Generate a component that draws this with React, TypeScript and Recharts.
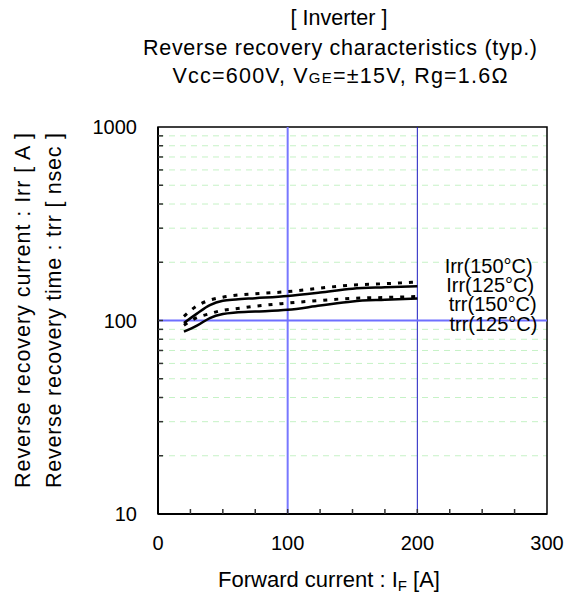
import React from 'react';
import {
  LineChart,
  Line,
  XAxis,
  YAxis,
  CartesianGrid,
  ReferenceLine,
  ReferenceArea,
  ReferenceDot,
} from 'recharts';

// ---- data ----
const forwardCurrent = [20, 30, 40, 50, 60, 75, 100, 125, 150, 175, 200];
const irr150 = [105, 119, 127.5, 132, 135, 137.5, 141, 147, 152.5, 155, 158];
const irr125 = [97, 108.5, 120, 126.5, 128.5, 130.5, 134, 139.5, 146, 148.5, 150.5];
const trr150 = [94.5, 103.5, 108.5, 113, 115, 118.5, 123, 127, 130.2, 131.5, 133];
const trr125 = [87.5, 94, 103, 108, 110, 111.2, 113.5, 119.5, 125.5, 128, 130];

const xTicks = [0, 25, 50, 75, 100, 125, 150, 175, 200, 225, 250, 275, 300];
const xLabelTicks = [0, 100, 200, 300];
const yTicks = [10, 20, 30, 40, 50, 60, 70, 80, 90, 100, 200, 300, 400, 500, 600, 700, 800, 900, 1000];
const yLabelTicks = [10, 100, 1000];
const gridY = [20, 30, 40, 50, 60, 70, 80, 90, 200, 300, 400, 500, 600, 700, 800, 900];

const curveLabels = [
  { text: 'Irr(150°C)', x: 255, y: 191 },
  { text: 'Irr(125°C)', x: 256.2, y: 152.6 },
  { text: 'trr(150°C)', x: 258.1, y: 121.7 },
  { text: 'trr(125°C)', x: 258.7, y: 95.9 },
];

const titleLines = ['[ Inverter ]', 'Reverse recovery characteristics  (typ.)'];
const yLabelLines = ['Reverse recovery current  :  Irr  [ A ]', 'Reverse recovery time  :  trr  [ nsec ]'];

const data = forwardCurrent.map((f, i) => ({
  if: f,
  irr150: irr150[i],
  irr125: irr125[i],
  trr150: trr150[i],
  trr125: trr125[i],
}));

const FONT = '"Liberation Sans", Arial, Helvetica, sans-serif';

const XTick = (props: any) => {
  const { x, y, payload } = props;
  const v = payload.value;
  return (
    <g>
      {v > 0 && v < 300 && <line x1={x} x2={x} y1={y} y2={y - 5} stroke="#333" strokeWidth={1.5} />}
      {xLabelTicks.includes(v) && (
        <text x={x} y={y + 36} textAnchor="middle" fontSize={20} fontFamily={FONT} fill="#000">
          {v}
        </text>
      )}
    </g>
  );
};

const YTick = (props: any) => {
  const { x, y, payload } = props;
  const v = payload.value;
  return (
    <g>
      {v > 10 && v < 1000 && <line x1={x} x2={x + 5} y1={y} y2={y} stroke="#333" strokeWidth={1.5} />}
      {yLabelTicks.includes(v) && (
        <text x={x - 21} y={y + 7} textAnchor="end" fontSize={20} fontFamily={FONT} fill="#000">
          {v}
        </text>
      )}
    </g>
  );
};

export default function App() {
  return (
    <div style={{ position: 'absolute', left: 0, top: 0, width: 574, height: 605, background: '#fff' }}>
      <LineChart
        width={574}
        height={605}
        data={data}
        margin={{ top: 127, left: 157, right: 27, bottom: 90 }}
      >
        <CartesianGrid
          vertical={false}
          horizontalValues={gridY}
          stroke="#c6f2c6"
          strokeDasharray="6 5"
          strokeWidth={1}
        />
        <XAxis
          type="number"
          dataKey="if"
          domain={[0, 300]}
          ticks={xTicks}
          interval={0}
          tick={<XTick />}
          tickLine={false}
          tickSize={0}
          tickMargin={0}
          height={1}
          axisLine={{ stroke: '#000', strokeWidth: 2 }}
          allowDataOverflow
        />
        <YAxis
          type="number"
          scale="log"
          domain={[10, 1000]}
          ticks={yTicks}
          interval={0}
          tick={<YTick />}
          tickLine={false}
          tickSize={0}
          tickMargin={0}
          width={1}
          axisLine={{ stroke: '#000', strokeWidth: 2 }}
          allowDataOverflow
        />
        <ReferenceLine x={100} stroke="#7878ff" strokeWidth={2} />
        <ReferenceLine x={200} stroke="#1c1cc0" strokeWidth={1} />
        <ReferenceLine y={100} stroke="#6f6fff" strokeWidth={2} />
        <ReferenceArea x1={0} x2={300} y1={10} y2={1000} fill="none" fillOpacity={0} stroke="#000" strokeWidth={1.5} ifOverflow="visible" />
        <Line type="monotone" dataKey="irr150" stroke="#000" strokeWidth={3} strokeDasharray="4 7" dot={false} isAnimationActive={false} />
        <Line type="monotone" dataKey="irr125" stroke="#000" strokeWidth={2.5} dot={false} isAnimationActive={false} />
        <Line type="monotone" dataKey="trr150" stroke="#000" strokeWidth={3} strokeDasharray="4 7" dot={false} isAnimationActive={false} />
        <Line type="monotone" dataKey="trr125" stroke="#000" strokeWidth={2.5} dot={false} isAnimationActive={false} />
        {curveLabels.map((l) => (
          <ReferenceDot
            key={l.text}
            x={l.x}
            y={l.y}
            r={0}
            fill="none"
            stroke="none"
            ifOverflow="visible"
            label={{ value: l.text, position: 'center', fontSize: 20, fill: '#000', fontFamily: FONT }}
          />
        ))}
      </LineChart>
      <svg
        width={574}
        height={605}
        style={{ position: 'absolute', left: 0, top: 0, pointerEvents: 'none' }}
        fontFamily={FONT}
      >
        <text x={339} y={25} textAnchor="middle" fontSize={21.5} fill="#000">
          {titleLines[0]}
        </text>
        <text x={340} y={55} textAnchor="middle" fontSize={21.5} fill="#000" textLength={394} lengthAdjust="spacing">
          {titleLines[1]}
        </text>
        <text x={340} y={83} textAnchor="middle" fontSize={21.5} fill="#000" textLength={335} lengthAdjust="spacing">
          Vcc=600V, V<tspan fontSize={15}>GE</tspan>=±15V, Rg=1.6Ω
        </text>
        <text transform="translate(30,310.5) rotate(-90)" textAnchor="middle" fontSize={21.5} fill="#000" textLength={355} lengthAdjust="spacing">
          {yLabelLines[0]}
        </text>
        <text transform="translate(61,310.5) rotate(-90)" textAnchor="middle" fontSize={21.5} fill="#000" textLength={355} lengthAdjust="spacing">
          {yLabelLines[1]}
        </text>
        <text x={329} y={587} textAnchor="middle" fontSize={22} fill="#000">
          Forward current : I<tspan fontSize={15} dy={4}>F</tspan>
          <tspan dy={-4}> [A]</tspan>
        </text>
      </svg>
    </div>
  );
}
